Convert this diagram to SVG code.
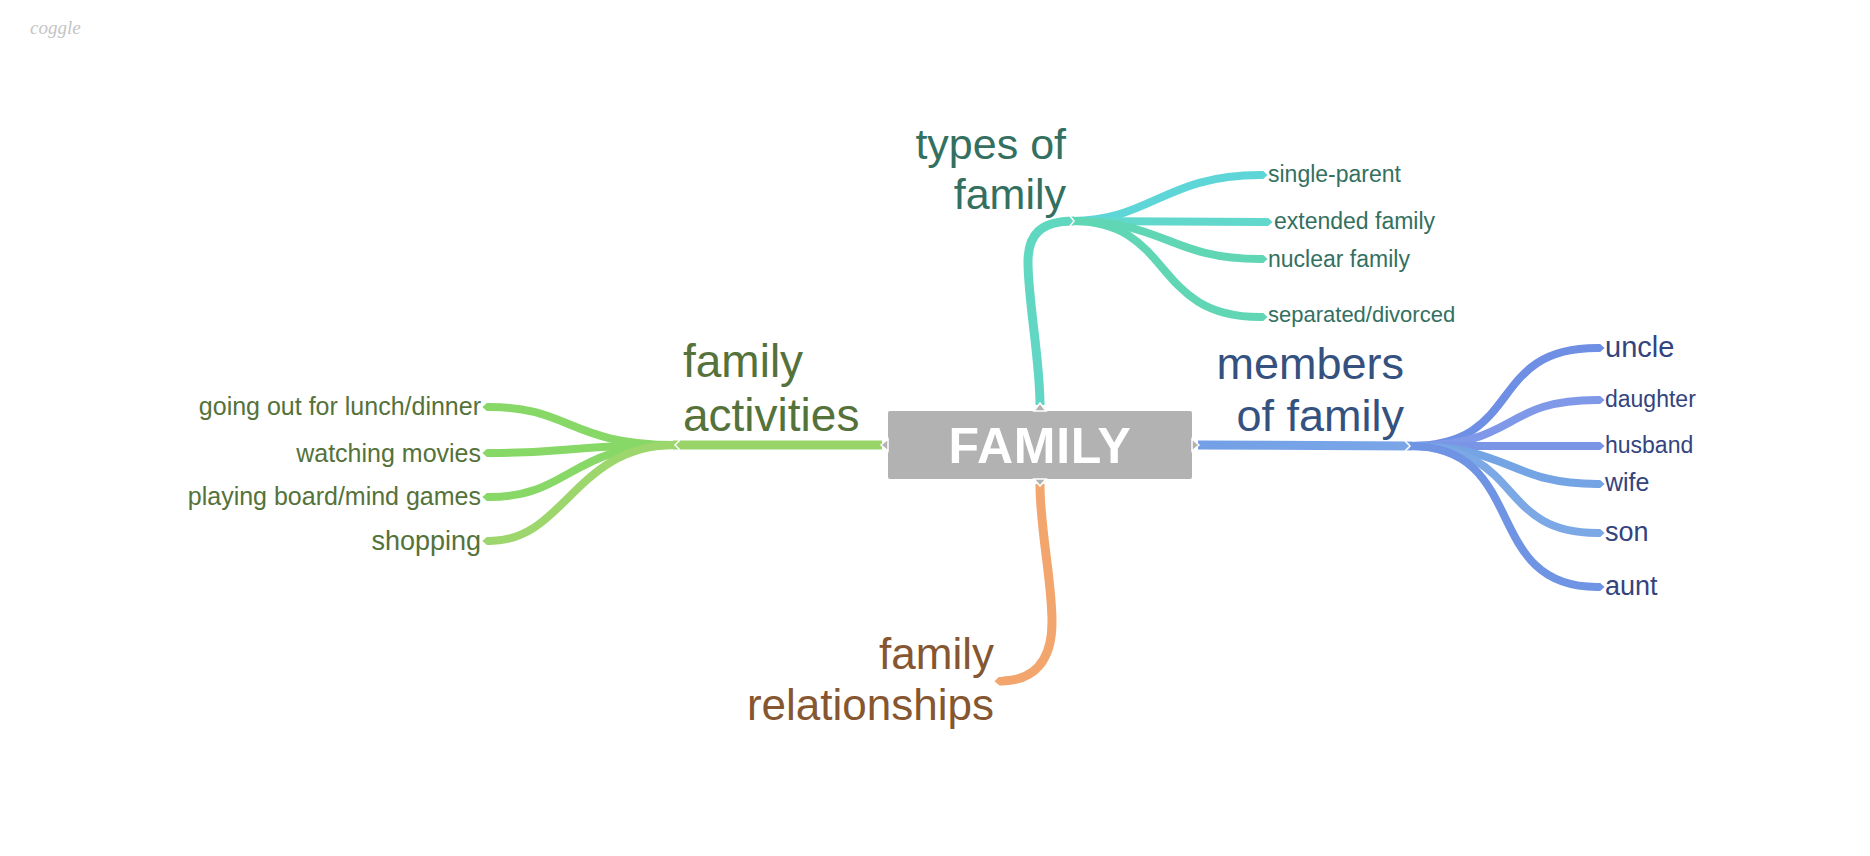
<svg xmlns="http://www.w3.org/2000/svg" width="1870" height="856" viewBox="0 0 1870 856">
<style>
text{font-family:"Liberation Sans",Arial,sans-serif}
.c{fill:none;stroke-width:8}
.t{stroke-width:9}
.tip{stroke:#fff;stroke-width:1.5}
.chev{fill:none;stroke:#fff;stroke-width:1.5}
.teal{fill:#33705f}.green{fill:#54723a}.blue{fill:#34517f}.navy{fill:#33447f}.brown{fill:#85562f}
</style>
<defs>
<marker id="a" markerWidth="1" markerHeight="1" refX="0.05" refY="0.5" viewBox="0 0 1 1" orient="auto" markerUnits="strokeWidth"><path d="M0 0L.45 0L1 .5L.45 1L0 1Z" fill="context-stroke"/></marker>
<linearGradient id="gt" gradientUnits="userSpaceOnUse" x1="1040" y1="405" x2="1070" y2="221"><stop offset="0" stop-color="#62d6c6"/><stop offset="1" stop-color="#60d8c0"/></linearGradient>
<linearGradient id="gb" gradientUnits="userSpaceOnUse" x1="1198" y1="445" x2="1408" y2="446"><stop offset="0" stop-color="#739fe6"/><stop offset="1" stop-color="#7aa6e8"/></linearGradient>
</defs>
<g id="logo"><text x="30" y="34" font-size="19" font-style="italic" fill="#c4c4c4" style="font-family:'Liberation Serif',serif">coggle</text></g>
<g id="connectors">
<path class="c t" stroke="url(#gt)" d="M1040 405C1040 360 1028 300 1028 262C1028 235 1040 221 1074 221"/>
<path class="c t" stroke="url(#gb)" d="M1198 445L1412 446"/>
<path class="c t" stroke="#98d468" d="M882 445L673 445"/>
<path class="c t" stroke="#f2a66e" marker-end="url(#a)" d="M1040 484C1040 530 1052 580 1052 622C1052 660 1035 680 1003 681"/>
<path class="c" stroke="#5ed6d8" marker-end="url(#a)" d="M1072 221C1150 221 1165 175 1260 175"/>
<path class="c" stroke="#62d8cc" marker-end="url(#a)" d="M1072 221L1265 222"/>
<path class="c" stroke="#60d6b4" marker-end="url(#a)" d="M1072 221C1165 221 1170 259 1260 259"/>
<path class="c" stroke="#60d6b4" marker-end="url(#a)" d="M1072 221C1175 221 1150 317 1260 317"/>
<path class="c" stroke="#6f8fe4" marker-end="url(#a)" d="M1410 446C1525 446 1485 348 1597 348"/>
<path class="c" stroke="#8098e8" marker-end="url(#a)" d="M1410 446C1520 446 1500 400 1597 400"/>
<path class="c" stroke="#7a94e6" marker-end="url(#a)" d="M1410 446L1597 446"/>
<path class="c" stroke="#74a4e4" marker-end="url(#a)" d="M1410 446C1510 446 1510 484 1597 484"/>
<path class="c" stroke="#7ca8e6" marker-end="url(#a)" d="M1410 446C1525 446 1495 533 1597 533"/>
<path class="c" stroke="#7094e4" marker-end="url(#a)" d="M1410 446C1530 446 1480 587 1597 587"/>
<path class="c" stroke="#88d868" marker-end="url(#a)" d="M675 445C570 445 570 407 490 407"/>
<path class="c" stroke="#88d868" marker-end="url(#a)" d="M675 445C570 445 570 453 490 453"/>
<path class="c" stroke="#88d868" marker-end="url(#a)" d="M675 445C570 445 570 497 490 497"/>
<path class="c" stroke="#9cd66c" marker-end="url(#a)" d="M675 445C575 445 565 541 490 541"/>
</g>
<g id="family">
<rect x="888" y="411" width="304" height="68" rx="2" fill="#b2b2b2"/>
<path class="tip" fill="#b2b2b2" d="M1034 411L1040 403L1046 411Z"/>
<path class="tip" fill="#b2b2b2" d="M1034 479L1040 486L1046 479Z"/>
<path class="tip" fill="#b2b2b2" d="M888 439L881 445L888 451Z"/>
<path class="tip" fill="#b2b2b2" d="M1192 439L1199 445L1192 451Z"/>
<text x="1040" y="463" font-size="50" font-weight="700" fill="#fff" text-anchor="middle" letter-spacing="0.7">FAMILY</text>
</g>
<g id="types"><path class="chev" d="M1070 216L1074 221L1070 226"/><text class="teal" font-size="43" text-anchor="end"><tspan x="1066" y="159">types of</tspan><tspan x="1066" y="209">family</tspan></text></g>
<g id="members"><path class="chev" d="M1405 441L1410 446L1405 451"/><text class="blue" font-size="45" text-anchor="end"><tspan x="1404" y="379">members</tspan><tspan x="1404" y="431">of family</tspan></text></g>
<g id="activities"><path class="chev" d="M680 440L675 445L680 450"/><text class="green" font-size="46"><tspan x="683" y="377">family</tspan><tspan x="683" y="431">activities</tspan></text></g>
<g id="relationships"><text class="brown" font-size="44" text-anchor="end"><tspan x="994" y="669">family</tspan><tspan x="994" y="720">relationships</tspan></text></g>
<g id="n1"><text class="teal" x="1268" y="182" font-size="23">single-parent</text></g>
<g id="n2"><text class="teal" x="1274" y="229" font-size="23">extended family</text></g>
<g id="n3"><text class="teal" x="1268" y="267" font-size="23">nuclear family</text></g>
<g id="n4"><text class="teal" x="1268" y="322" font-size="22">separated/divorced</text></g>
<g id="n5"><text class="navy" x="1605" y="357" font-size="29">uncle</text></g>
<g id="n6"><text class="navy" x="1605" y="407" font-size="23">daughter</text></g>
<g id="n7"><text class="navy" x="1605" y="453" font-size="23">husband</text></g>
<g id="n8"><text class="navy" x="1605" y="491" font-size="25">wife</text></g>
<g id="n9"><text class="navy" x="1605" y="541" font-size="27">son</text></g>
<g id="n10"><text class="navy" x="1605" y="595" font-size="27">aunt</text></g>
<g id="n11"><text class="green" x="481" y="415" font-size="25" text-anchor="end">going out for lunch/dinner</text></g>
<g id="n12"><text class="green" x="481" y="462" font-size="25" text-anchor="end">watching movies</text></g>
<g id="n13"><text class="green" x="481" y="505" font-size="25" text-anchor="end">playing board/mind games</text></g>
<g id="n14"><text class="green" x="481" y="550" font-size="27" text-anchor="end">shopping</text></g>
</svg>
